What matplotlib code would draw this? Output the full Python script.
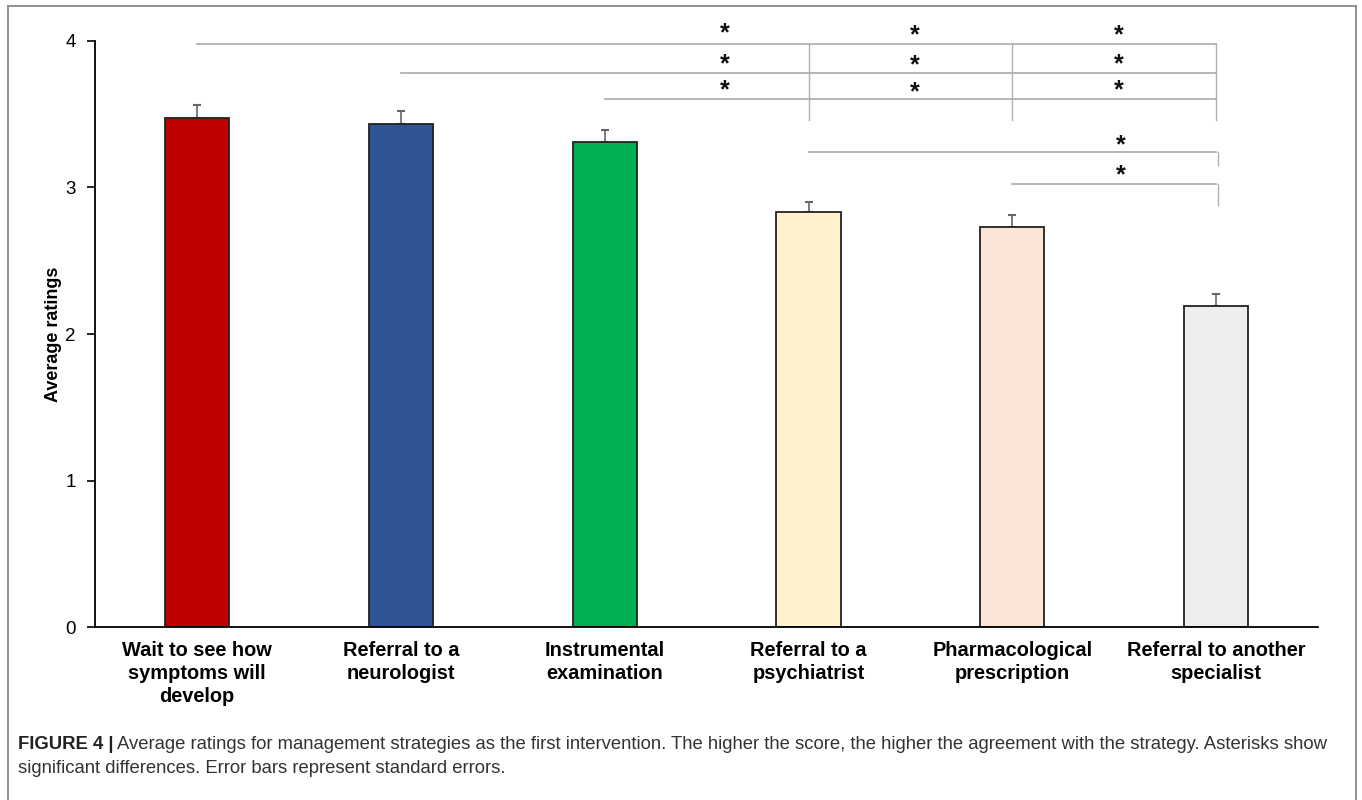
import matplotlib.pyplot as plt
from matplotlib.lines import Line2D

plt.rcParams['font.family'] = ['Liberation Sans', 'DejaVu Sans']

# data
categories = ['Wait to see how\nsymptoms will\ndevelop', 'Referral to a\nneurologist',
              'Instrumental\nexamination', 'Referral to a\npsychiatrist',
              'Pharmacological\nprescription', 'Referral to another\nspecialist']
means = [3.47, 3.43, 3.31, 2.83, 2.73, 2.19]
errors = [0.09, 0.09, 0.08, 0.07, 0.08, 0.08]
colors = ['#c00000', '#2f5597', '#00b050', '#fff2cc', '#fbe5d6', '#ededed']

# significance brackets: (start, end, height)
brackets = [(0, 5, 3.98), (1, 5, 3.78), (2, 5, 3.60), (3, 5, 3.24), (4, 5, 3.02)]
drops = [(3, 3.46), (4, 3.46), (5, 3.46)]
stars = [(2.59, 4.05), (3.52, 4.04), (4.52, 4.04),
         (2.59, 3.84), (3.52, 3.83), (4.52, 3.84),
         (2.59, 3.66), (3.52, 3.65), (4.52, 3.66),
         (4.53, 3.29), (4.53, 3.08)]

fig = plt.figure(figsize=(13.62, 8), dpi=100)
ax = fig.add_axes([0.0698, 0.216, 0.898, 0.733])

x = list(range(len(categories)))
ax.bar(x, means, width=0.315, color=colors, edgecolor='#222222', linewidth=1.3, zorder=2)
ax.errorbar(x, means, yerr=[[0] * len(errors), errors], fmt='none', ecolor='#666666',
            elinewidth=1.2, capsize=3, capthick=1.5, zorder=1)

grey = '#b0b0b0'
for s, e, h in brackets:
    ax.plot([s, e], [h, h], color=grey, lw=1.3, clip_on=False)
ax.plot([5, 5], [3.98, 3.46], color=grey, lw=1.0, clip_on=False)
for xd, bottom in drops[:2]:
    ax.plot([xd, xd], [3.98, bottom], color=grey, lw=1.0, clip_on=False)
ax.plot([5.01, 5.01], [3.24, 3.15], color=grey, lw=1.0, clip_on=False)
ax.plot([5.01, 5.01], [3.02, 2.88], color=grey, lw=1.0, clip_on=False)
for sx, sy in stars:
    ax.text(sx, sy, '*', ha='center', va='center', fontsize=18, fontweight='bold',
            color='#111111', clip_on=False)

ax.set_xlim(-0.5, 5.5)
ax.set_ylim(0, 4)
ax.set_yticks([0, 1, 2, 3, 4])
ax.set_xticks(x)
ax.set_xticklabels(categories, fontsize=14.4, fontweight='bold', linespacing=1.25)
ax.tick_params(axis='x', length=0, pad=10)
ax.tick_params(axis='y', labelsize=13.5, length=6, width=1.2, pad=8)
ax.set_ylabel('Average ratings', fontsize=13, fontweight='bold', labelpad=2)
for side in ['top', 'right']:
    ax.spines[side].set_visible(False)
for side in ['left', 'bottom']:
    ax.spines[side].set_linewidth(1.3)

# frame around the figure
fc = '#888888'
fig.add_artist(Line2D([0.006, 0.006], [0, 0.993], color=fc, lw=1.3, transform=fig.transFigure))
fig.add_artist(Line2D([0.006, 0.9955], [0.993, 0.993], color=fc, lw=1.3, transform=fig.transFigure))
fig.add_artist(Line2D([0.9955, 0.9955], [0, 0.993], color=fc, lw=1.3, transform=fig.transFigure))

# caption
t1 = fig.text(0.013, 0.064, 'FIGURE 4 |', fontsize=13.3, fontweight='bold', color='#222222')
fig.canvas.draw()
bb = t1.get_window_extent().transformed(fig.transFigure.inverted())
fig.text(bb.x1 + 0.003, 0.064,
         'Average ratings for management strategies as the first intervention. '
         'The higher the score, the higher the agreement with the strategy. Asterisks show',
         fontsize=13.3, color='#333333')
fig.text(0.013, 0.034, 'significant differences. Error bars represent standard errors.',
         fontsize=13.3, color='#333333')

fig.savefig('out.png', dpi=100)
